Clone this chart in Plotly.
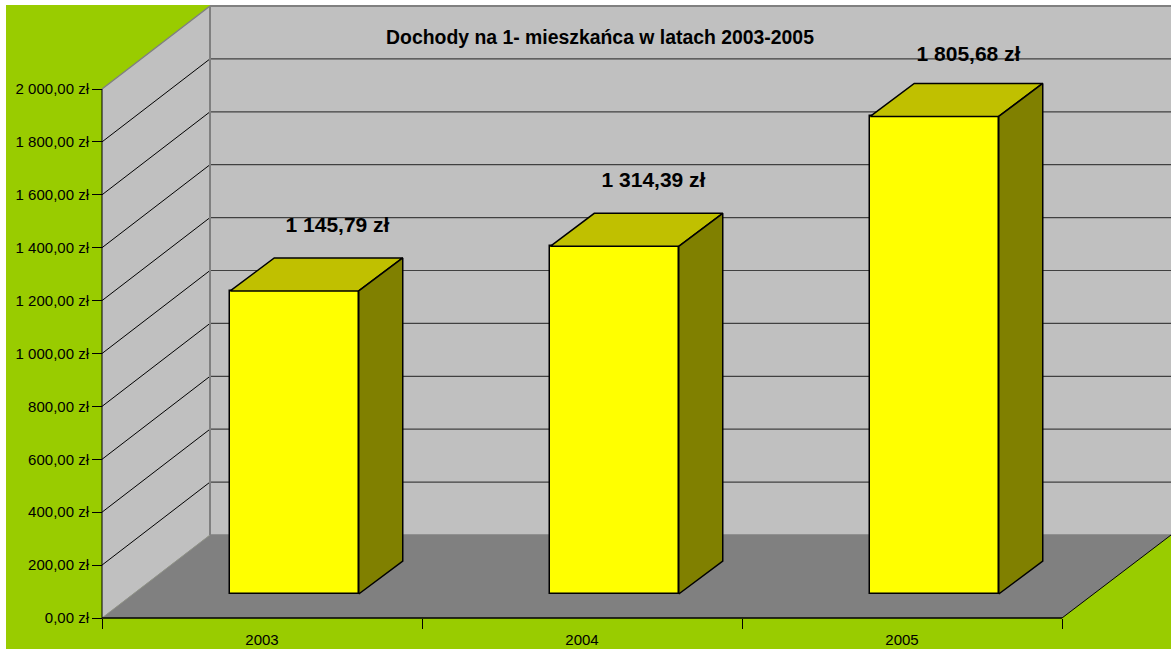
import plotly.graph_objects as go

# --- data ---
years = ["2003", "2004", "2005"]
income = [1145.79, 1314.39, 1805.68]
income_labels = ["1 145,79 zł", "1 314,39 zł", "1 805,68 zł"]
y_ticks = [0, 200, 400, 600, 800, 1000, 1200, 1400, 1600, 1800, 2000]
y_tick_labels = ["0,00 zł", "200,00 zł", "400,00 zł", "600,00 zł", "800,00 zł", "1 000,00 zł",
                 "1 200,00 zł", "1 400,00 zł", "1 600,00 zł", "1 800,00 zł", "2 000,00 zł"]
title = "Dochody na 1- mieszkańca w latach 2003-2005"

# --- layout geometry (pixels) ---
W, H = 1171, 649
X0, Y0 = 102, 618          # origin of the front plane
CAT_PX = 320               # width of one category
PX_PER_UNIT = (617 - 88) / 2000
FONT = "Liberation Sans, Arial, sans-serif"

def dx(px):   # horizontal pixels -> x-axis units
    return px / CAT_PX
def dy(px):   # vertical pixels -> y-axis units
    return px / PX_PER_UNIT

WALL_X, WALL_Y = dx(108), dy(83)     # depth of the chart box
LIFT_X, LIFT_Y = dx(32.5), dy(24)    # where the bars stand on the floor
BAR_X, BAR_Y = dx(44), dy(33)        # depth of the bars
BAR_W = dx(128.5)
LABEL_SHIFT_X = [43, 39, 34]
LABEL_SHIFT_Y = [64, 65, 61]

x_right = dx(W - X0)
x_left = dx(-X0)
y_top = dy(Y0)
y_bottom = dy(Y0 - H)
x_end = len(years)

GREEN, WALL, FLOOR = "#99CC00", "#C0C0C0", "#808080"
YELLOW, TOP, SIDE = "#FFFF00", "#C0C000", "#808000"

def poly(pts, color):
    path = "M " + " L ".join(f"{a},{b}" for a, b in pts) + " Z"
    return dict(type="path", xref="x", yref="y", layer="below", path=path,
                fillcolor=color, line=dict(width=0))

def seg(a, b, c, d, color, width=1):
    return dict(type="line", xref="x", yref="y", layer="below", x0=a, y0=b, x1=c, y1=d,
                line=dict(color=color, width=width))

top = y_ticks[-1]
shapes = [
    dict(type="rect", xref="paper", yref="paper", layer="below",
         x0=6 / W, x1=1, y0=0, y1=1 - 5 / H, fillcolor=GREEN, line=dict(width=0)),
    poly([(WALL_X, top + WALL_Y), (x_right, top + WALL_Y), (x_right, WALL_Y), (WALL_X, WALL_Y)], WALL),
    poly([(0, 0), (WALL_X, WALL_Y), (WALL_X, top + WALL_Y), (0, top)], WALL),
    poly([(0, 0), (WALL_X, WALL_Y), (x_right, WALL_Y), (x_end, 0)], FLOOR),
]
for v in y_ticks[1:-1]:
    shapes.append(seg(0, v, WALL_X, v + WALL_Y, "#000000"))
    shapes.append(seg(WALL_X, v + WALL_Y, x_right, v + WALL_Y, "#404040", 1.2))
shapes += [
    seg(0, top, WALL_X, top + WALL_Y, "#808080", 1.5),
    seg(WALL_X, top + WALL_Y, x_right, top + WALL_Y, "#808080", 2),
    seg(WALL_X, WALL_Y, x_right, WALL_Y, "#808080", 1.5),
    seg(0, 0, WALL_X, WALL_Y, "#909090", 1),
    seg(WALL_X, WALL_Y, WALL_X, top + WALL_Y, "#808080", 2),
    seg(0, 0, 0, top, "#000000", 1),
    seg(0, 0, x_end, 0, "#000000", 1.5),
    seg(x_end, 0, x_right, WALL_Y, "#000000", 1),
]

fig = go.Figure()
centres = [i + 0.5 + LIFT_X for i in range(len(years))]

# front faces
fig.add_trace(go.Bar(x=centres, y=income, base=[LIFT_Y] * len(income), width=BAR_W,
                     marker=dict(color=YELLOW, line=dict(color="#000000", width=1.5)),
                     showlegend=False, hoverinfo="skip"))

# top and side faces
edge = dict(color="#000000", width=1.5)
for c, v in zip(centres, income):
    l, r = c - BAR_W / 2, c + BAR_W / 2
    b, t = LIFT_Y, LIFT_Y + v
    fig.add_trace(go.Scatter(x=[l, r, r + BAR_X, l + BAR_X, l],
                             y=[t, t, t + BAR_Y, t + BAR_Y, t],
                             mode="lines", fill="toself", fillcolor=TOP, line=edge,
                             showlegend=False, hoverinfo="skip"))
    fig.add_trace(go.Scatter(x=[r, r + BAR_X, r + BAR_X, r, r],
                             y=[b, b + BAR_Y, t + BAR_Y, t, b],
                             mode="lines", fill="toself", fillcolor=SIDE, line=edge,
                             showlegend=False, hoverinfo="skip"))

# value labels
fig.add_trace(go.Scatter(
    x=[c + dx(s) for c, s in zip(centres, LABEL_SHIFT_X)],
    y=[LIFT_Y + v + dy(s) for v, s in zip(income, LABEL_SHIFT_Y)],
    mode="text", text=income_labels, textposition="middle center",
    textfont=dict(family=FONT, size=21, color="#000000"),
    texttemplate="<b>%{text}</b>", showlegend=False, hoverinfo="skip"))

fig.update_layout(
    width=W, height=H, margin=dict(l=0, r=0, t=0, b=0), autosize=False,
    paper_bgcolor="#FFFFFF", plot_bgcolor="#FFFFFF", shapes=shapes,
    font=dict(family=FONT, size=15, color="#000000"),
    title=dict(text=f"<b>{title}</b>", x=600 / W, y=1 - 37 / H, xanchor="center", yanchor="middle",
               xref="paper", yref="paper", font=dict(family=FONT, size=19.4, color="#000000")),
    bargap=0,
    xaxis=dict(domain=[0, 1], range=[x_left, x_right], anchor="free", position=1 - Y0 / H,
               tickmode="array", tickvals=[i + 0.5 for i in range(len(years))], ticktext=years,
               ticks="outside", ticklen=8, tickcolor="rgba(0,0,0,0)", showgrid=False, zeroline=False,
               showline=False, tickfont=dict(family=FONT, size=15, color="#000000"),
               minor=dict(tickmode="array", tickvals=list(range(len(years) + 1)), ticks="outside",
                          ticklen=10, tickcolor="#000000", tickwidth=1, showgrid=False)),
    yaxis=dict(domain=[0, 1], range=[y_bottom, y_top], anchor="free", position=X0 / W,
               tickmode="array", tickvals=y_ticks, ticktext=y_tick_labels,
               ticks="outside", ticklen=10, tickcolor="#000000", tickwidth=1, showgrid=False,
               zeroline=False, showline=False,
               tickfont=dict(family=FONT, size=15, color="#000000")),
)

fig.write_html("out.html", config=dict(displayModeBar=False),
               post_script="document.body.style.margin='0';document.body.style.overflow='hidden';window.dispatchEvent(new Event('resize'));")
